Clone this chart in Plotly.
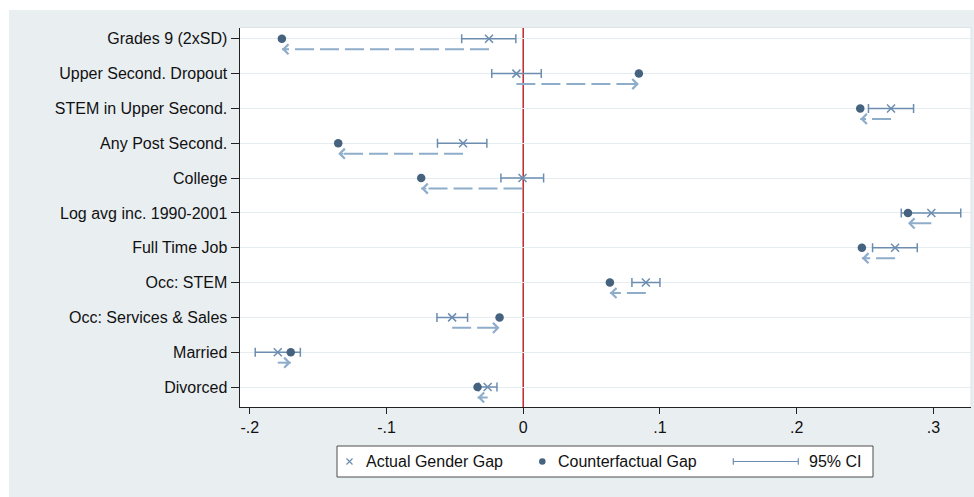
import plotly.graph_objects as go

# ---- data -------------------------------------------------------------
outcomes = [
    "Grades 9 (2xSD)", "Upper Second. Dropout", "STEM in Upper Second.",
    "Any Post Second.", "College", "Log avg inc. 1990-2001", "Full Time Job",
    "Occ: STEM", "Occ: Services & Sales", "Married", "Divorced",
]
actual_gap = [-0.025, -0.005, 0.269, -0.044, -0.0005, 0.2985, 0.272, 0.0897, -0.052, -0.1795, -0.026]
ci_low = [-0.045, -0.023, 0.2525, -0.0627, -0.0163, 0.2765, 0.2555, 0.0795, -0.0631, -0.196, -0.0325]
ci_high = [-0.0054, 0.0132, 0.2855, -0.0266, 0.0149, 0.320, 0.2882, 0.100, -0.0407, -0.163, -0.0192]
counterfactual_gap = [-0.1765, 0.0846, 0.2465, -0.1353, -0.0746, 0.2814, 0.2477, 0.0634, -0.0173, -0.170, -0.0334]

x_ticks = [-0.2, -0.1, 0, 0.1, 0.2, 0.3]
x_tick_labels = ["-.2", "-.1", "0", ".1", ".2", ".3"]

# ---- style ------------------------------------------------------------
W, H = 974, 497
FONT = "Liberation Sans, Arial, Helvetica, sans-serif"
BG = "#e9eef1"
GRID = "#e6edf0"
DOT = "#45627f"
XCOL = "#6c8db0"
ARROW = "#8eadca"
RED = "#c1272d"

# plot area in pixels (left, right, top, bottom)
PL, PR, PT, PB = 239.5, 971, 27.5, 407
# legend box in pixels
LL, LR, LT, LB = 337, 873, 446, 477

ypos = list(range(1, len(outcomes) + 1))
arrow_off = 0.3

fig = go.Figure()

# dashed shift arrows: from the actual gap to the counterfactual gap
for y, a, c in zip(ypos, actual_gap, counterfactual_gap):
    fig.add_trace(go.Scatter(
        x=[a, c], y=[y + arrow_off, y + arrow_off], mode="lines",
        line=dict(color=ARROW, width=2, dash="19px,6px"),
        hoverinfo="skip", showlegend=False,
    ))
    step = min(abs(a - c), 0.005) * (1 if a > c else -1)
    fig.add_annotation(
        x=c, y=y + arrow_off, ax=c + step, ay=y + arrow_off,
        xref="x", yref="y", axref="x", ayref="y", text="",
        showarrow=True, arrowhead=4, arrowsize=1.3, arrowwidth=1.5,
        arrowcolor=ARROW, standoff=0, startstandoff=0,
    )

# actual gap with 95% CI
fig.add_trace(go.Scatter(
    x=actual_gap, y=ypos, mode="markers", showlegend=False,
    marker=dict(symbol="x-thin", size=8, line=dict(color=XCOL, width=1.5), color=XCOL),
    error_x=dict(type="data", symmetric=False,
                 array=[h - a for h, a in zip(ci_high, actual_gap)],
                 arrayminus=[a - l for a, l in zip(actual_gap, ci_low)],
                 color=XCOL, thickness=1.5, width=4.5),
))

# counterfactual gap
fig.add_trace(go.Scatter(
    x=counterfactual_gap, y=ypos, mode="markers", showlegend=False,
    marker=dict(symbol="circle", size=8.5, color=DOT),
))

# ---- legend (drawn in its own small subplot) --------------------------
fig.add_trace(go.Scatter(
    x=[349.5], y=[0.5], xaxis="x2", yaxis="y2", mode="markers", showlegend=False,
    marker=dict(symbol="x-thin", size=6, line=dict(color=XCOL, width=1.2)),
))
fig.add_trace(go.Scatter(
    x=[542.3], y=[0.5], xaxis="x2", yaxis="y2", mode="markers", showlegend=False,
    marker=dict(symbol="circle", size=6.5, color=DOT),
))
fig.add_trace(go.Scatter(
    x=[765.8], y=[0.5], xaxis="x2", yaxis="y2", mode="markers", showlegend=False,
    marker=dict(size=2, opacity=0),
    error_x=dict(type="constant", value=32.5, color=XCOL, thickness=1.2, width=3.2),
))
for lx, label in [(364, "Actual Gender Gap"), (556, "Counterfactual Gap"), (807, "95% CI")]:
    fig.add_annotation(x=lx, y=0.5, xref="x2", yref="y2", text=label, showarrow=False,
                       xanchor="left", yanchor="middle",
                       font=dict(family=FONT, size=16, color="#111111"))

shapes = [
    # white page edge around the grey graph region
    dict(type="rect", xref="paper", yref="paper", x0=0, x1=9 / W, y0=0, y1=1,
         fillcolor="white", line=dict(width=0), layer="below"),
    dict(type="rect", xref="paper", yref="paper", x0=0, x1=1, y0=1 - 10 / H, y1=1,
         fillcolor="white", line=dict(width=0), layer="below"),
    # faint top / right frame of the plot region
    dict(type="line", xref="paper", yref="paper", x0=PL / W, x1=PR / W, y0=1 - PT / H, y1=1 - PT / H,
         line=dict(color="#dbe4e8", width=1)),
    dict(type="line", xref="paper", yref="paper", x0=PR / W, x1=PR / W, y0=1 - PB / H, y1=1 - PT / H,
         line=dict(color="#dbe4e8", width=1)),
    # reference line at zero
    dict(type="line", xref="x", yref="paper", x0=0, x1=0, y0=1 - PB / H, y1=1 - PT / H,
         line=dict(color=RED, width=1.5), layer="below"),
    # legend frame
    dict(type="rect", xref="paper", yref="paper", x0=LL / W, x1=LR / W, y0=1 - LB / H, y1=1 - LT / H,
         line=dict(color="#4d4d4d", width=1)),
]

tickfont = dict(family=FONT, size=16, color="#111111")

fig.update_layout(
    template="none",
    width=W, height=H,
    margin=dict(l=0, r=0, t=0, b=0),
    paper_bgcolor=BG, plot_bgcolor="white",
    showlegend=False,
    shapes=shapes,
    xaxis=dict(
        domain=[PL / W, PR / W], anchor="y",
        range=[-0.2075, 0.3275], tickvals=x_ticks, ticktext=x_tick_labels,
        ticks="outside", ticklen=6, tickwidth=1, tickcolor="#222222",
        showline=True, linecolor="#222222", linewidth=1,
        showgrid=False, zeroline=False, tickfont=tickfont, automargin=False,
    ),
    yaxis=dict(
        domain=[1 - PB / H, 1 - PT / H], anchor="x",
        range=[len(outcomes) + 0.573, 0.676], tickvals=ypos, ticktext=outcomes,
        ticks="outside", ticklen=8, tickwidth=1, tickcolor="#222222",
        showline=True, linecolor="#222222", linewidth=1,
        showgrid=True, gridcolor=GRID, gridwidth=1.2,
        zeroline=False, tickfont=tickfont, automargin=False,
    ),
    xaxis2=dict(domain=[LL / W, LR / W], anchor="y2", range=[LL, LR],
                visible=False, fixedrange=True),
    yaxis2=dict(domain=[1 - LB / H, 1 - LT / H], anchor="x2", range=[0, 1],
                visible=False, fixedrange=True),
)

fig.write_html("out.html")
